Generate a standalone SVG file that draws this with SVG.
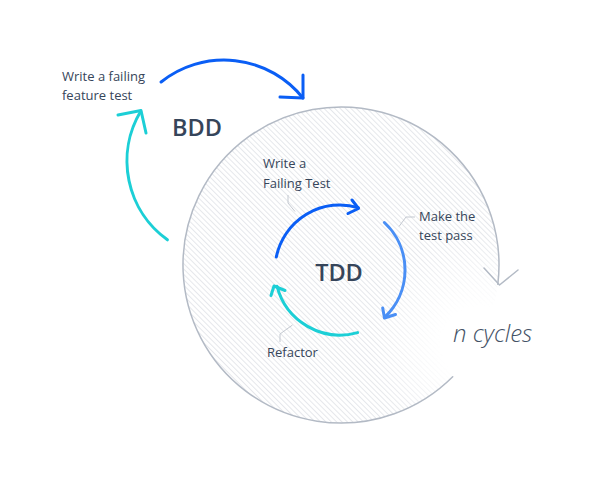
<svg xmlns="http://www.w3.org/2000/svg" width="597" height="477" viewBox="0 0 597 477">
<style>
.t{font-family:"Open Sans","Noto Sans","Liberation Sans",sans-serif;fill:#36455a;}
.lbl{font-size:13px;}
.big{font-size:23.5px;font-weight:600;}
.cyc{font-size:24px;font-style:italic;font-weight:300;fill:#445266;}
.arc{fill:none;stroke-width:3;stroke-linecap:round;stroke-linejoin:round;}
.blue{stroke:#0a5ef5;}
.lblue{stroke:#4a8ff5;}
.cyan{stroke:#1ccfd6;}
.gray{fill:none;stroke:#b3bac5;stroke-width:1.5;stroke-linecap:round;stroke-linejoin:round;}
.lead{fill:none;stroke:#c3c8d0;stroke-width:1;}
</style>
<defs>
<pattern id="hatch" patternUnits="userSpaceOnUse" width="3.8" height="10" patternTransform="rotate(-45)">
<line x1="0.5" y1="0" x2="0.5" y2="10" stroke="#e5e7eb" stroke-width="1"/>
</pattern>
<radialGradient id="fade" gradientUnits="userSpaceOnUse" cx="480" cy="345" r="110">
<stop offset="0" stop-color="#000"/>
<stop offset="0.35" stop-color="#000"/>
<stop offset="1" stop-color="#fff"/>
</radialGradient>
<mask id="m">
<rect x="0" y="0" width="597" height="477" fill="url(#fade)"/>
</mask>
</defs>
<rect x="0" y="0" width="597" height="477" fill="#fff"/>
<g id="cycle-area">
<circle cx="341" cy="265" r="158" fill="url(#hatch)" mask="url(#m)"/>
</g>
<g id="connectors">
<path class="gray" d="M452.7 376.7 A158 158 0 1 1 497.8 284.3"/>
<polyline class="gray" points="484,268 499.5,285 518,270"/>
<path class="arc blue" d="M161.1 82 A101 101 0 0 1 302.9 98"/>
<polyline class="arc blue" points="303,75 303,98 280,97"/>
<path class="arc cyan" d="M167.4 239.8 A97 97 0 0 1 140.7 111.3"/>
<polyline class="arc cyan" points="118,115 141,110.5 146,133"/>
<path class="arc blue" d="M276.3 257 A65 65 0 0 1 358.3 207.6"/>
<polyline class="arc blue" points="352,200 358.5,208.5 348,213.5"/>
<path class="arc lblue" d="M384.4 222.5 A65 65 0 0 1 384.5 317.4"/>
<polyline class="arc lblue" points="382.7,308 384.5,318 395.5,314.5"/>
<path class="arc cyan" d="M357.6 332.6 A65 65 0 0 1 277 286.2"/>
<polyline class="arc cyan" points="271,295.5 274,286 285,290.5"/>
<polyline class="lead" points="288,195 288,203 295,211.5"/>
<polyline class="lead" points="415,217 406,217 399,226.5"/>
<polyline class="lead" points="280,342 280,334 292.5,325"/>
</g>
<g id="bdd-step">
<text class="t lbl" x="62" y="81">Write a failing</text>
<text class="t lbl" x="62" y="100">feature test</text>
</g>
<g id="bdd"><text class="t big" x="172" y="135.5">BDD</text></g>
<g id="tdd"><text class="t big" x="339" y="281" text-anchor="middle">TDD</text></g>
<g id="write-test">
<text class="t lbl" x="263" y="168">Write a</text>
<text class="t lbl" x="263" y="188">Failing Test</text>
</g>
<g id="make-pass">
<text class="t lbl" x="419" y="221">Make the</text>
<text class="t lbl" x="419" y="240">test pass</text>
</g>
<g id="refactor"><text class="t lbl" x="267" y="357">Refactor</text></g>
<g id="n-cycles"><text class="t cyc" x="453" y="342">n cycles</text></g>
</svg>
